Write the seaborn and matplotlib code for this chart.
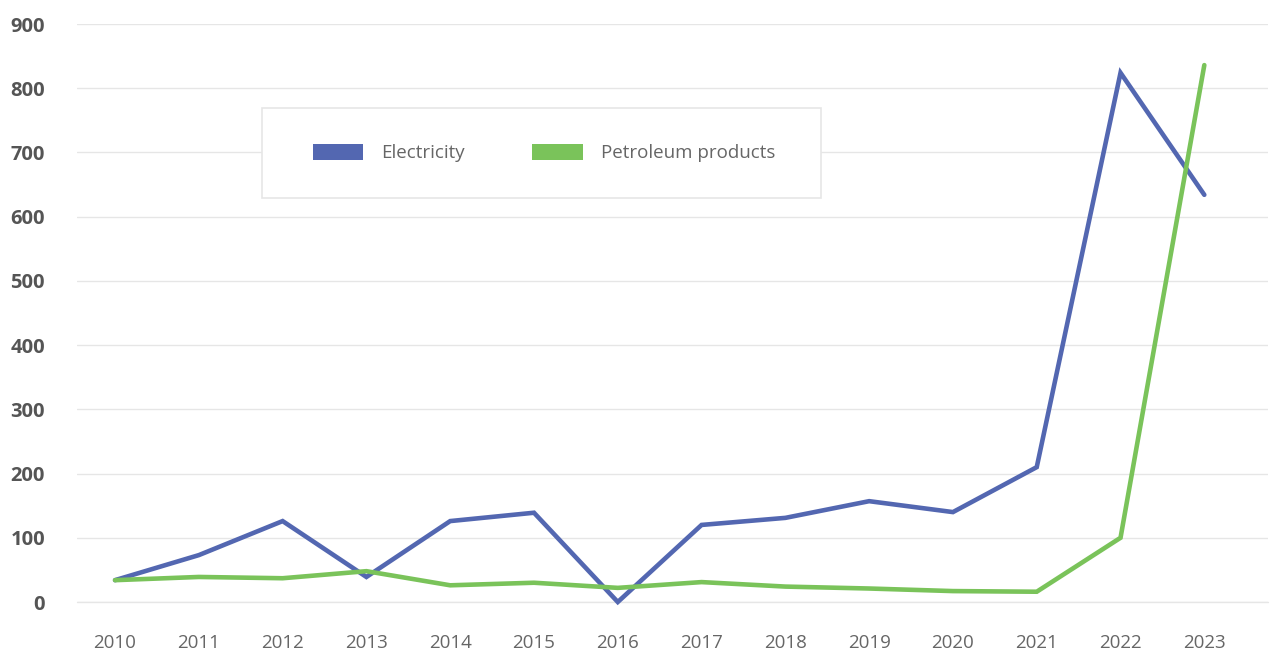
import numpy as np
import pandas as pd
import matplotlib
matplotlib.use("Agg")
import matplotlib.pyplot as plt
from matplotlib.patches import Patch, Rectangle
import seaborn as sns

years = [2010, 2011, 2012, 2013, 2014, 2015, 2016, 2017, 2018, 2019, 2020, 2021, 2022, 2023]
electricity = [34, 73, 126, 39, 126, 139, 0, 120, 131, 157, 140, 210, 824, 634]
petroleum = [34, 39, 37, 48, 26, 30, 22, 31, 24, 21, 17, 16, 100, 836]
series_names = ["Electricity", "Petroleum products"]
colors = ["#5367b1", "#7ac35a"]
y_ticks = [0, 100, 200, 300, 400, 500, 600, 700, 800, 900]

df = pd.DataFrame({
    "idx": list(range(len(years))) * 2,
    "value": electricity + petroleum,
    "series": [series_names[0]] * len(years) + [series_names[1]] * len(years),
})

sns.set_theme(style="white")
plt.rcParams["font.family"] = ["Open Sans", "DejaVu Sans"]

fig = plt.figure(figsize=(12.7, 6.54), dpi=100)
ax = fig.add_axes([77 / 1270, 52 / 654, 1191 / 1270, 578 / 654])

sns.lineplot(data=df, x="idx", y="value", hue="series", palette=colors,
             linewidth=3.3, legend=False, ax=ax, clip_on=False,
             solid_joinstyle="miter", solid_capstyle="round")

ax.set_xlim(-0.454, 13.76)
ax.set_ylim(0, 900)
ax.set_yticks(y_ticks)
ax.set_yticklabels([str(t) for t in y_ticks], fontsize=14.5, fontweight="bold", color="#555555")
ax.set_xticks(range(len(years)))
ax.set_xticklabels([str(y) for y in years], fontsize=13.5, color="#666666")
ax.tick_params(axis="y", length=0, pad=23)
ax.tick_params(axis="x", length=0, pad=23)
ax.yaxis.grid(True, color="#e6e6e6", linewidth=1)
ax.axhline(0, color="#e6e6e6", linewidth=1, clip_on=False, zorder=0.5)
ax.set_axisbelow(True)
for s in ax.spines.values():
    s.set_visible(False)
ax.set_xlabel("")
ax.set_ylabel("")

# legend box
x0, x1 = (262 - 77) / 1191, (821 - 77) / 1191
y0, y1 = (602 - 198) / 578, (602 - 108) / 578
ax.add_patch(Rectangle((x0, y0), x1 - x0, y1 - y0, transform=ax.transAxes,
                       facecolor="white", edgecolor="#e6e6e6", linewidth=1.2, zorder=3))
handles = [Patch(facecolor=c, edgecolor="none") for c in colors]
leg = ax.legend(handles, series_names, loc="center", ncol=2,
                bbox_to_anchor=((x0 + x1) / 2 + 0.002, (y0 + y1) / 2),
                frameon=False, fontsize=13.5, handlelength=2.7, handleheight=0.95,
                handletextpad=0.95, columnspacing=3.6, labelcolor="#666666")
leg.set_zorder(4)

fig.savefig("out.png", dpi=100)
